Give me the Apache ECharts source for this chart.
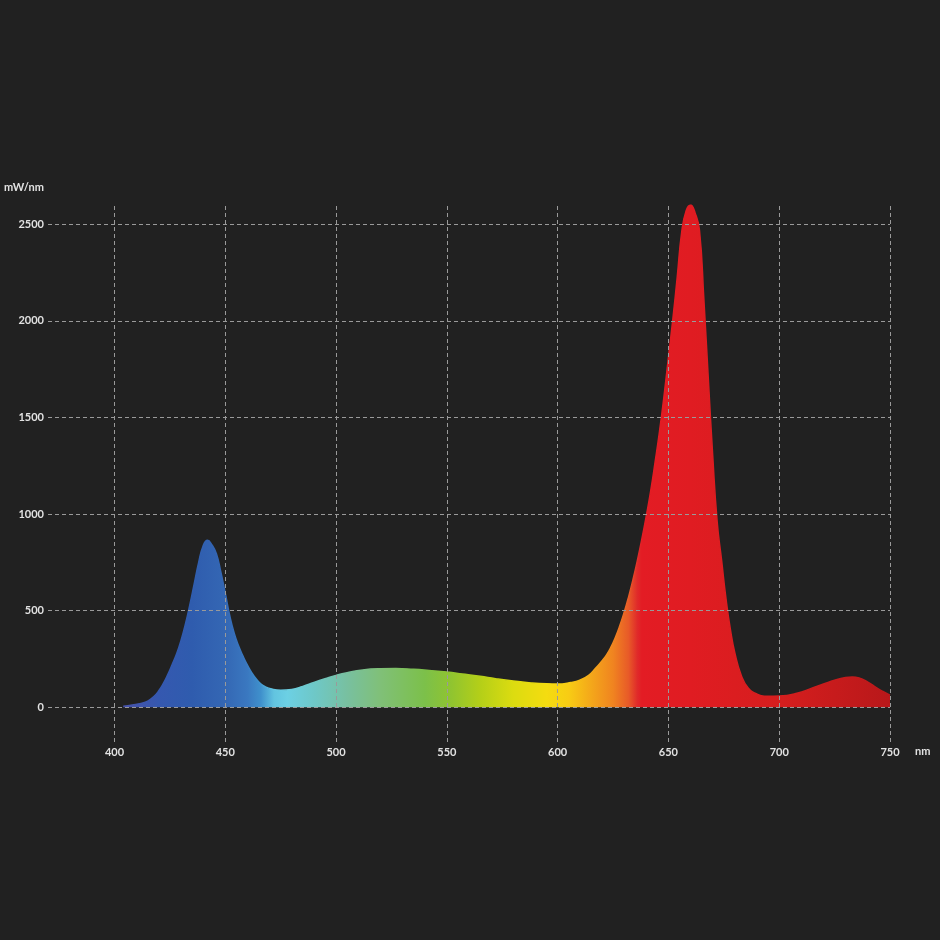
<!DOCTYPE html>
<html>
<head>
<meta charset="utf-8">
<script src="https://cdn.jsdelivr.net/npm/echarts@6/dist/echarts.min.js"></script>
<style>
	html, body { margin: 0; padding: 0; background: #212121; }
	#spectrum { width: 940px; height: 940px; }
</style>
</head>
<body>
<div id="spectrum"></div>
<script>
// wavelength (nm) and power (mW/nm)
var waveLengths = [
	404, 408, 412, 415, 418, 420, 422, 424, 426, 428, 430, 432, 434, 436, 438, 440, 442,
	444, 446, 448, 450, 452, 454, 456, 458, 460, 462, 464, 466, 468, 471, 475, 480,
	485, 490, 495, 500, 505, 512, 520, 527, 535, 542, 550, 557, 565, 572, 580, 588, 595,
	600, 606, 610, 614, 617, 620, 622, 624, 626, 628, 630, 632, 634, 636, 638, 640,
	642, 644, 646, 648, 650, 652, 654, 656, 658, 660, 662, 664, 666, 668, 670, 672,
	674, 676, 678, 680, 683, 686, 690, 695, 700, 708, 715, 720, 725, 730, 733, 736,
	740, 744, 747, 750
];
var powerValues = [
	5, 12, 20, 32, 58, 85, 122, 168, 220, 275, 345, 430, 530, 640, 750, 835, 864,
	840, 795, 700, 590, 475, 385, 318, 265, 218, 178, 146, 121, 106, 94, 88, 92,
	108, 128, 147, 165, 179, 193, 199, 200, 196, 190, 182, 172, 160, 148, 136, 126, 121,
	120, 128, 140, 165, 200, 240, 270, 310, 360, 420, 490, 570, 660, 760, 870, 990,
	1120, 1270, 1430, 1610, 1810, 2010, 2230, 2460, 2570, 2600, 2560, 2470, 2110, 1700, 1300, 960,
	760, 560, 400, 280, 160, 100, 68, 57, 58, 72, 100, 120, 140, 154, 157, 152,
	130, 100, 80, 62
];
var xTicks = [400, 450, 500, 550, 600, 650, 700, 750];
var yTicks = [0, 500, 1000, 1500, 2000, 2500];

// spectrum colours along the wavelength
var spectrumStops = [
	[404, '#4852aa'], [420, '#3558b0'], [435, '#2f5cae'], [450, '#3467b4'],
	[460, '#3a78c0'], [466, '#3f90cc'], [472, '#62c4e0'], [478, '#6cd0e4'],
	[490, '#6ec8c8'], [505, '#78c0a0'], [520, '#80c078'], [540, '#7cc04a'],
	[552, '#90c430'], [565, '#b4cf18'], [580, '#dcdc10'], [595, '#f4dc10'],
	[605, '#f8cc14'], [615, '#f4a81a'], [625, '#f08420'], [632, '#e85a28'],
	[636, '#e02a2a'], [638, '#e31c24'], [660, '#e01c22'], [700, '#d61e1e'],
	[750, '#b8181a']
];

var gridColor = '#9a9a9a';
var textColor = '#e2e2e2';

function spectrumGradient() {
	var first = waveLengths[0];
	var last = waveLengths[waveLengths.length - 1];
	var stops = [];
	for(var i = 0; i < spectrumStops.length; i++) {
		stops.push({
			offset: (spectrumStops[i][0] - first) / (last - first),
			color: spectrumStops[i][1]
		});
	}
	return new echarts.graphic.LinearGradient(0, 0, 1, 0, stops);
}

function renderSpectrum() {
	var chart = echarts.init(document.getElementById('spectrum'));
	var points = [];
	for(var i = 0; i < waveLengths.length; i++) {
		points.push([waveLengths[i], powerValues[i]]);
	}
	var gridLines = [];
	for(var j = 0; j < yTicks.length; j++) {
		gridLines.push({ yAxis: yTicks[j] });
	}
	for(var k = 0; k < xTicks.length; k++) {
		gridLines.push({ xAxis: xTicks[k] });
	}

	chart.setOption({
		backgroundColor: '#212121',
		animation: false,
		textStyle: {
			fontFamily: 'Lato'
		},
		grid: {
			left: 48,
			right: 50,
			top: 205,
			bottom: 198
		},
		xAxis: {
			type: 'value',
			min: 370,
			max: 750,
			name: 'nm',
			nameLocation: 'end',
			nameGap: 25,
			nameTextStyle: {
				color: textColor,
				fontSize: 11,
				fontWeight: 'bold',
				verticalAlign: 'top',
				padding: [4, 0, 0, 0]
			},
			axisLine: { show: false, onZero: false },
			axisTick: { show: false },
			splitLine: { show: false },
			axisLabel: {
				customValues: xTicks,
				color: textColor,
				fontSize: 11,
				fontWeight: 'bold',
				margin: 5
			}
		},
		yAxis: {
			type: 'value',
			min: -180,
			max: 2600,
			name: 'mW/nm',
			nameLocation: 'end',
			nameGap: 12,
			nameTextStyle: {
				color: textColor,
				fontSize: 11,
				fontWeight: 'bold',
				align: 'right',
				padding: [0, 4, 0, 0]
			},
			axisLine: { show: false },
			axisTick: { show: false },
			splitLine: { show: false },
			axisLabel: {
				customValues: yTicks,
				formatter: function(v) {
					return String(v);
				},
				color: textColor,
				fontSize: 11,
				fontWeight: 'bold',
				margin: 4
			}
		},
		series: [{
			// dashed grid behind the spectrum
			type: 'line',
			data: [],
			z: 1,
			silent: true,
			markLine: {
				silent: true,
				symbol: ['none', 'none'],
				label: { show: false },
				lineStyle: {
					color: gridColor,
					type: [4, 3],
					width: 1
				},
				data: gridLines
			}
		}, {
			type: 'line',
			data: points,
			z: 2,
			smooth: 0.5,
			symbol: 'none',
			lineStyle: {
				width: 1.5,
				color: spectrumGradient()
			},
			areaStyle: {
				color: spectrumGradient(),
				opacity: 1
			}
		}]
	});
}

renderSpectrum();
</script>
</body>
</html>
